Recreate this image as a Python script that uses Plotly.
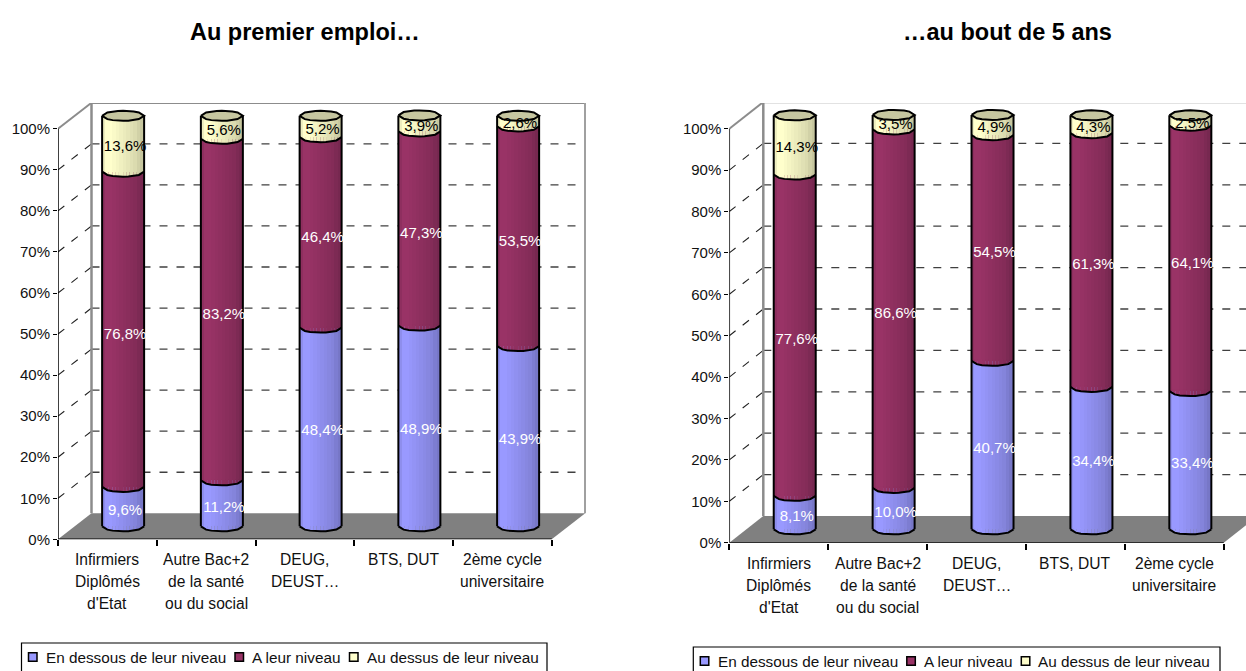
import plotly.graph_objects as go

W, H = 1246, 671
CATEGORIES = [["Infirmiers", "Diplômés", "d'Etat"],
              ["Autre Bac+2", "de la santé", "ou du social"],
              ["DEUG,", "DEUST…"],
              ["BTS, DUT"],
              ["2ème cycle", "universitaire"]]
SERIES = ["En dessous de leur niveau", "A leur niveau", "Au dessus de leur niveau"]
TITLES = ["Au premier emploi…", "…au bout de 5 ans"]
Y_TICKS = [0, 10, 20, 30, 40, 50, 60, 70, 80, 90, 100]
LEFT_BELOW = [9.6, 11.2, 48.4, 48.9, 43.9]
LEFT_AT = [76.8, 83.2, 46.4, 47.3, 53.5]
LEFT_ABOVE = [13.6, 5.6, 5.2, 3.9, 2.6]
RIGHT_BELOW = [8.1, 10.0, 40.7, 34.4, 33.4]
RIGHT_AT = [77.6, 86.6, 54.5, 61.3, 64.1]
RIGHT_ABOVE = [14.3, 3.5, 4.9, 4.3, 2.5]

BASE_COLORS = [(153, 153, 255), (153, 51, 102), (255, 255, 204)]
LABEL_COLORS = ["white", "white", "black"]
LABEL_DROP = [4.5, 5.5, 3.5]
CAP = "#c6c6a0"
SHADES = [0.93, 1.0, 1.0, 0.98, 0.96, 0.94, 0.92, 0.90, 0.88, 0.86, 0.82, 0.78]
FONT = "Liberation Sans"
FS = 15

PANELS = [
    dict(vals=[LEFT_BELOW, LEFT_AT, LEFT_ABOVE], x0=58, x1=586, y0=539.3, y1=103,
         xstep=98.75, ystep=4.105, dxp=33.5, dyp=26, title_x=305, xa="x", ya="y",
         lab_y=559, box=(21.5, 547, 643)),
    dict(vals=[RIGHT_BELOW, RIGHT_AT, RIGHT_ABOVE], x0=729.3, x1=1246, y0=542.7, y1=103,
         xstep=98.9, ystep=4.14, dxp=34, dyp=26.7, title_x=1007, xa="x2", ya="y2",
         lab_y=563, box=(693.3, 1220, 647)),
]


def shade(c, f):
    return "rgb(%d,%d,%d)" % tuple(round(v * f) for v in c)


def arc(cx, half, cy, ry, n=9, upper=False):
    xs, ys = [], []
    for k in range(n):
        t = -1 + 2 * k / (n - 1)
        xs.append(cx + half * t)
        v = (1 - t * t) ** 0.5 * ry
        ys.append(cy + v if upper else cy - v)
    return xs, ys


fig = go.Figure()
shapes, annos = [], []
N = len(SHADES)

for idx, p in enumerate(PANELS):
    xa, ya = p["xa"], p["ya"]
    sx, sy = xa, ya
    dx = p["dxp"] / p["xstep"]
    dy = p["dyp"] / p["ystep"]
    ncat = len(CATEGORIES)
    bw = 42 / p["xstep"]
    ry = 5 / p["ystep"]
    centers = [i + 0.5 + dx * 0.47 for i in range(ncat)]
    strip = bw / N

    def line(x0, y0, x1, y1, color, width, dash="solid", layer="below"):
        shapes.append(dict(type="line", xref=sx, yref=sy, x0=x0, y0=y0, x1=x1, y1=y1,
                           line=dict(color=color, width=width, dash=dash), layer=layer))

    shapes.append(dict(type="path", xref=sx, yref=sy, layer="below", line_width=0,
                       fillcolor="#808080",
                       path=f"M0,0 L{dx},{dy} L{ncat + dx},{dy} L{ncat},0 Z"))
    for v in Y_TICKS[1:-1]:
        line(dx, v + dy, ncat + dx, v + dy, "#404040", 1.3, "8px,9px")
        line(0, v, dx, v + dy, "#202020", 1.1, "8px,9px")
    line(dx, dy, dx, 100 + dy, "#8c8c8c", 2.5)
    line(dx, 100 + dy, ncat + dx, 100 + dy, "#8c8c8c", 2.5)
    line(ncat + dx, dy, ncat + dx, 100 + dy, "#a0a0a0", 2.5)
    line(0, 100, dx, 100 + dy, "#8c8c8c", 2)
    line(0, 0, 0, 100, "black", 1.5)
    line(0, 0, ncat, 0, "black", 1.5)

    cum = [dy / 2] * ncat
    edges = []
    for s, vals in enumerate(p["vals"]):
        base = list(cum)
        for k, f in enumerate(SHADES):
            color = shade(BASE_COLORS[s], f)
            off = -bw / 2 + strip * (k + 0.5)
            fig.add_trace(go.Bar(x=[c + off for c in centers], y=vals, base=base,
                                 width=strip * 1.15, marker=dict(color=color, line_width=0),
                                 xaxis=xa, yaxis=ya, showlegend=False, hoverinfo="skip"))
        cum = [b + v for b, v in zip(base, vals)]
        edges.append(base)
    for s, base_vals in enumerate(edges):
        for k, f in enumerate(SHADES):
            xs, ys = [], []
            for c, b in zip(centers, base_vals):
                ax, ay = arc(c, bw / 2, b, ry, n=41)
                i0, i1 = k * 40 // N, (k + 1) * 40 // N
                seg_x, seg_y = ax[i0:i1 + 1], ay[i0:i1 + 1]
                xs += seg_x + [seg_x[-1], seg_x[0], seg_x[0], None]
                ys += seg_y + [b + 0.3, b + 0.3, seg_y[0], None]
            fig.add_trace(go.Scatter(x=xs, y=ys, mode="lines", fill="toself",
                                     fillcolor=shade(BASE_COLORS[s], f), line=dict(width=0),
                                     xaxis=xa, yaxis=ya, showlegend=False, hoverinfo="skip"))
    ox, oy = [], []
    for s, base_vals in enumerate(edges):
        for c, b in zip(centers, base_vals):
            ax, ay = arc(c, bw / 2, b, ry)
            ox += ax + [None]
            oy += ay + [None]
    for i, c in enumerate(centers):
        ox += [c - bw / 2, c - bw / 2, None, c + bw / 2, c + bw / 2, None]
        oy += [dy / 2, cum[i], None, dy / 2, cum[i], None]
    fig.add_trace(go.Scatter(x=ox, y=oy, mode="lines", line=dict(color="black", width=2),
                             xaxis=xa, yaxis=ya, showlegend=False, hoverinfo="skip"))
    tx, ty = [], []
    for c, t in zip(centers, cum):
        ax, ay = arc(c, bw / 2, t, ry)
        bx, by = arc(c, bw / 2, t, ry, upper=True)
        tx += ax + bx[::-1] + [None]
        ty += ay + by[::-1] + [None]
    fig.add_trace(go.Scatter(x=tx, y=ty, mode="lines", fill="toself", fillcolor=CAP,
                             line=dict(color="black", width=2), xaxis=xa, yaxis=ya,
                             showlegend=False, hoverinfo="skip"))
    for s, vals in enumerate(p["vals"]):
        fig.add_trace(go.Scatter(
            x=[c + 2 / p["xstep"] for c in centers],
            y=[b + v / 2 - LABEL_DROP[s] / p["ystep"] for b, v in zip(edges[s], vals)],
            text=[f"{v:.1f}%".replace(".", ",") for v in vals],
            mode="text", textposition="middle center",
            textfont=dict(family=FONT, size=FS, color=LABEL_COLORS[s]),
            xaxis=xa, yaxis=ya, showlegend=False, hoverinfo="skip"))

    suffix = "" if idx == 0 else "2"
    xrange_ = [0, (p["x1"] - p["x0"]) / p["xstep"]]
    yrange_ = [0, (p["y0"] - p["y1"]) / p["ystep"]]
    fig.update_layout(**{
        "xaxis" + suffix: dict(domain=[p["x0"] / W, p["x1"] / W], range=xrange_,
                               tickvals=list(range(ncat + 1)), ticks="outside", ticklen=6,
                               tickcolor="black", tickwidth=1.5, showticklabels=False,
                               showgrid=False, zeroline=False, showline=False,
                               anchor="y" + suffix),
        "yaxis" + suffix: dict(domain=[1 - p["y0"] / H, 1 - p["y1"] / H], range=yrange_,
                               tickvals=Y_TICKS, ticktext=[f"{v}%" for v in Y_TICKS],
                               ticks="outside", ticklen=4, tickcolor="black", tickwidth=1.2,
                               tickfont=dict(family=FONT, size=FS, color="#111111"),
                               showgrid=False, zeroline=False, showline=False,
                               anchor="x" + suffix),
    })

    for i, lines in enumerate(CATEGORIES):
        for j, t in enumerate(lines):
            annos.append(dict(text=t, xref=sx, x=i + 0.5, yref="paper",
                              y=1 - (p["lab_y"] + 22 * j) / H, showarrow=False,
                              xanchor="center", yanchor="middle",
                              font=dict(family=FONT, size=15.6, color="#111111")))
    annos.append(dict(text=f"<b>{TITLES[idx]}</b>", xref="paper", yref="paper",
                      x=p["title_x"] / W, y=1 - 32 / H, showarrow=False,
                      xanchor="center", yanchor="middle",
                      font=dict(family=FONT, size=23.5, color="black")))
    bl, br, bt = p["box"]
    shapes.append(dict(type="rect", xref="paper", yref="paper", x0=bl / W, x1=br / W,
                       y0=-0.01, y1=1 - bt / H, line=dict(color="black", width=1.2),
                       fillcolor="white", layer="above"))
    offs = [(7, 22.5), (213.5, 228.5), (328, 343)]
    ly = bt + 14
    for s, name in enumerate(SERIES):
        m, tx0 = offs[s]
        mx = bl + m
        shapes.append(dict(type="rect", xref="paper", yref="paper",
                           x0=mx / W, x1=(mx + 8.5) / W, y0=1 - (ly + 4.25) / H, y1=1 - (ly - 4.25) / H,
                           line=dict(color="black", width=1.5),
                           fillcolor=shade(BASE_COLORS[s], 1), layer="above"))
        annos.append(dict(text=name, xref="paper", yref="paper", x=(bl + tx0) / W,
                          y=1 - ly / H, showarrow=False, xanchor="left", yanchor="middle",
                          font=dict(family=FONT, size=15.3, color="#111111")))

fig.update_layout(width=W, height=H, margin=dict(l=0, r=0, t=0, b=0, autoexpand=False), barmode="overlay",
                  bargap=0, paper_bgcolor="white", plot_bgcolor="white",
                  shapes=shapes, annotations=annos, showlegend=False)
fig.write_html("out.html", config={"displayModeBar": False}, default_width="1246px", default_height="671px",
               post_script="document.body.style.margin='0';document.body.style.overflow='hidden';")
